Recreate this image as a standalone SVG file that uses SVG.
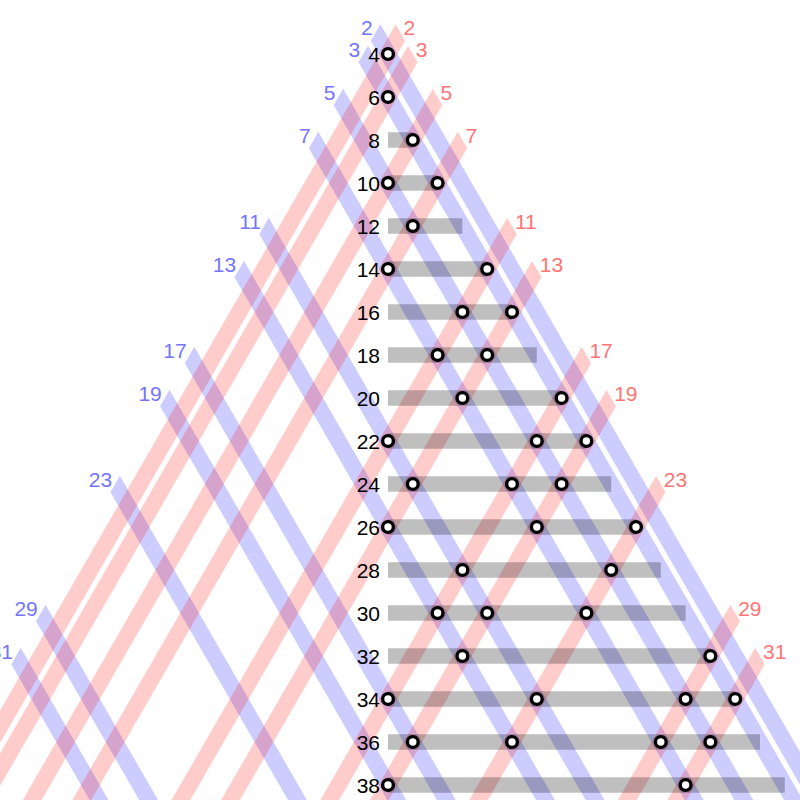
<svg xmlns="http://www.w3.org/2000/svg" width="800" height="800" viewBox="0 0 800 800">
<style>
.b{fill:rgba(0,0,255,0.2)}
.r{fill:rgba(255,0,0,0.2)}
.bar{fill:rgba(0,0,0,0.25)}
.c{fill:#fff;stroke:#000;stroke-width:3.4}
text{font-family:"Liberation Sans",Arial,sans-serif;font-size:21px}
.bl{fill:#7474ff;text-anchor:end}
.rl{fill:#ff7474;text-anchor:start}
.nl{fill:#000;text-anchor:end}
</style>
<rect width="800" height="800" fill="#fff"/>
<g id="connectors">
<g id="blue-bands" transform="matrix(-12.4,21.5,12.4,21.5,388,-32)">
<rect class="b" x="1.62" y="1" width="0.76" height="44"/>
<rect class="b" x="2.62" y="1" width="0.76" height="44"/>
<rect class="b" x="4.62" y="1" width="0.76" height="44"/>
<rect class="b" x="6.62" y="1" width="0.76" height="44"/>
<rect class="b" x="10.62" y="1" width="0.76" height="44"/>
<rect class="b" x="12.62" y="1" width="0.76" height="44"/>
<rect class="b" x="16.62" y="1" width="0.76" height="44"/>
<rect class="b" x="18.62" y="1" width="0.76" height="44"/>
<rect class="b" x="22.62" y="1" width="0.76" height="44"/>
<rect class="b" x="28.62" y="1" width="0.76" height="44"/>
<rect class="b" x="30.62" y="1" width="0.76" height="44"/>
</g>
<g id="red-bands" transform="matrix(-12.4,21.5,12.4,21.5,388,-32)">
<rect class="r" y="1.62" x="1" height="0.76" width="44"/>
<rect class="r" y="2.62" x="1" height="0.76" width="44"/>
<rect class="r" y="4.62" x="1" height="0.76" width="44"/>
<rect class="r" y="6.62" x="1" height="0.76" width="44"/>
<rect class="r" y="10.62" x="1" height="0.76" width="44"/>
<rect class="r" y="12.62" x="1" height="0.76" width="44"/>
<rect class="r" y="16.62" x="1" height="0.76" width="44"/>
<rect class="r" y="18.62" x="1" height="0.76" width="44"/>
<rect class="r" y="22.62" x="1" height="0.76" width="44"/>
<rect class="r" y="28.62" x="1" height="0.76" width="44"/>
<rect class="r" y="30.62" x="1" height="0.76" width="44"/>
</g>
<g id="bars">
<rect class="bar" x="388" y="132.25" width="24.8" height="15.5"/>
<rect class="bar" x="388" y="175.25" width="49.6" height="15.5"/>
<rect class="bar" x="388" y="218.25" width="74.4" height="15.5"/>
<rect class="bar" x="388" y="261.25" width="99.2" height="15.5"/>
<rect class="bar" x="388" y="304.25" width="124" height="15.5"/>
<rect class="bar" x="388" y="347.25" width="148.8" height="15.5"/>
<rect class="bar" x="388" y="390.25" width="173.6" height="15.5"/>
<rect class="bar" x="388" y="433.25" width="198.4" height="15.5"/>
<rect class="bar" x="388" y="476.25" width="223.2" height="15.5"/>
<rect class="bar" x="388" y="519.25" width="248" height="15.5"/>
<rect class="bar" x="388" y="562.25" width="272.8" height="15.5"/>
<rect class="bar" x="388" y="605.25" width="297.6" height="15.5"/>
<rect class="bar" x="388" y="648.25" width="322.4" height="15.5"/>
<rect class="bar" x="388" y="691.25" width="347.2" height="15.5"/>
<rect class="bar" x="388" y="734.25" width="372" height="15.5"/>
<rect class="bar" x="388" y="777.25" width="396.8" height="15.5"/>
</g>
</g>
<g id="prime-labels">
<text class="bl" x="372.6" y="35">2</text>
<text class="bl" x="360.2" y="56.5">3</text>
<text class="bl" x="335.4" y="99.5">5</text>
<text class="bl" x="310.6" y="142.5">7</text>
<text class="bl" x="261" y="228.5">11</text>
<text class="bl" x="236.2" y="271.5">13</text>
<text class="bl" x="186.6" y="357.5">17</text>
<text class="bl" x="161.8" y="400.5">19</text>
<text class="bl" x="112.2" y="486.5">23</text>
<text class="bl" x="37.8" y="615.5">29</text>
<text class="bl" x="13" y="658.5">31</text>
<text class="rl" x="403.4" y="35">2</text>
<text class="rl" x="415.8" y="56.5">3</text>
<text class="rl" x="440.6" y="99.5">5</text>
<text class="rl" x="465.4" y="142.5">7</text>
<text class="rl" x="515" y="228.5">11</text>
<text class="rl" x="539.8" y="271.5">13</text>
<text class="rl" x="589.4" y="357.5">17</text>
<text class="rl" x="614.2" y="400.5">19</text>
<text class="rl" x="663.8" y="486.5">23</text>
<text class="rl" x="738.2" y="615.5">29</text>
<text class="rl" x="763" y="658.5">31</text>
</g>
<g id="n4"><text class="nl" x="380" y="61.5">4</text><circle class="c" cx="388" cy="54" r="5.4"/></g>
<g id="n6"><text class="nl" x="380" y="104.5">6</text><circle class="c" cx="388" cy="97" r="5.4"/></g>
<g id="n8"><text class="nl" x="380" y="147.5">8</text><circle class="c" cx="412.8" cy="140" r="5.4"/></g>
<g id="n10"><text class="nl" x="380" y="190.5">10</text><circle class="c" cx="388" cy="183" r="5.4"/><circle class="c" cx="437.6" cy="183" r="5.4"/></g>
<g id="n12"><text class="nl" x="380" y="233.5">12</text><circle class="c" cx="412.8" cy="226" r="5.4"/></g>
<g id="n14"><text class="nl" x="380" y="276.5">14</text><circle class="c" cx="388" cy="269" r="5.4"/><circle class="c" cx="487.2" cy="269" r="5.4"/></g>
<g id="n16"><text class="nl" x="380" y="319.5">16</text><circle class="c" cx="462.4" cy="312" r="5.4"/><circle class="c" cx="512" cy="312" r="5.4"/></g>
<g id="n18"><text class="nl" x="380" y="362.5">18</text><circle class="c" cx="437.6" cy="355" r="5.4"/><circle class="c" cx="487.2" cy="355" r="5.4"/></g>
<g id="n20"><text class="nl" x="380" y="405.5">20</text><circle class="c" cx="462.4" cy="398" r="5.4"/><circle class="c" cx="561.6" cy="398" r="5.4"/></g>
<g id="n22"><text class="nl" x="380" y="448.5">22</text><circle class="c" cx="388" cy="441" r="5.4"/><circle class="c" cx="536.8" cy="441" r="5.4"/><circle class="c" cx="586.4" cy="441" r="5.4"/></g>
<g id="n24"><text class="nl" x="380" y="491.5">24</text><circle class="c" cx="412.8" cy="484" r="5.4"/><circle class="c" cx="512" cy="484" r="5.4"/><circle class="c" cx="561.6" cy="484" r="5.4"/></g>
<g id="n26"><text class="nl" x="380" y="534.5">26</text><circle class="c" cx="388" cy="527" r="5.4"/><circle class="c" cx="536.8" cy="527" r="5.4"/><circle class="c" cx="636" cy="527" r="5.4"/></g>
<g id="n28"><text class="nl" x="380" y="577.5">28</text><circle class="c" cx="462.4" cy="570" r="5.4"/><circle class="c" cx="611.2" cy="570" r="5.4"/></g>
<g id="n30"><text class="nl" x="380" y="620.5">30</text><circle class="c" cx="437.6" cy="613" r="5.4"/><circle class="c" cx="487.2" cy="613" r="5.4"/><circle class="c" cx="586.4" cy="613" r="5.4"/></g>
<g id="n32"><text class="nl" x="380" y="663.5">32</text><circle class="c" cx="462.4" cy="656" r="5.4"/><circle class="c" cx="710.4" cy="656" r="5.4"/></g>
<g id="n34"><text class="nl" x="380" y="706.5">34</text><circle class="c" cx="388" cy="699" r="5.4"/><circle class="c" cx="536.8" cy="699" r="5.4"/><circle class="c" cx="685.6" cy="699" r="5.4"/><circle class="c" cx="735.2" cy="699" r="5.4"/></g>
<g id="n36"><text class="nl" x="380" y="749.5">36</text><circle class="c" cx="412.8" cy="742" r="5.4"/><circle class="c" cx="512" cy="742" r="5.4"/><circle class="c" cx="660.8" cy="742" r="5.4"/><circle class="c" cx="710.4" cy="742" r="5.4"/></g>
<g id="n38"><text class="nl" x="380" y="792.5">38</text><circle class="c" cx="388" cy="785" r="5.4"/><circle class="c" cx="685.6" cy="785" r="5.4"/></g>
</svg>
